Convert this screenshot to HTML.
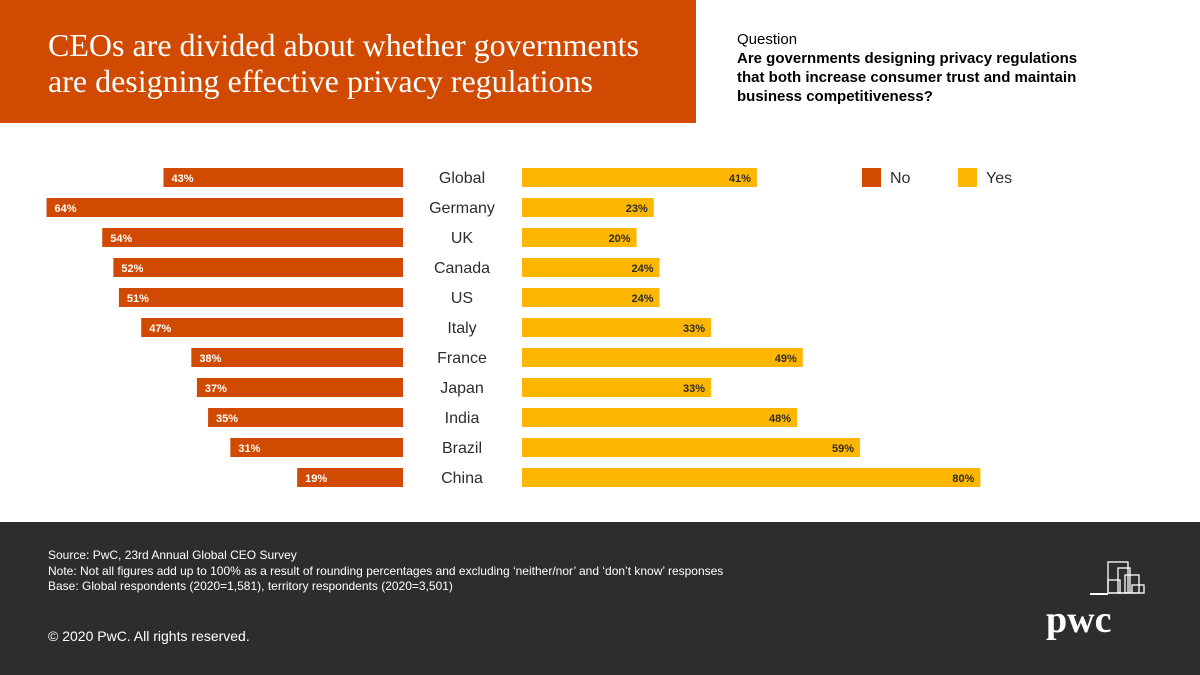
<!DOCTYPE html>
<html><head><meta charset="utf-8">
<style>
body{margin:0;width:1200px;height:675px;position:relative;overflow:hidden;background:#fff;font-family:"Liberation Sans",sans-serif;}
#hdr{position:absolute;left:0;top:0;width:696px;height:123px;background:#d04a02;}
#title{position:absolute;left:48px;top:27px;color:#fff;font-family:"Liberation Serif",serif;font-size:32px;line-height:36px;white-space:nowrap;}
#q{position:absolute;left:737px;top:30px;font-size:15px;line-height:19px;color:#000;}
#foot{position:absolute;left:0;top:522px;width:1200px;height:153px;background:#2d2d2d;color:#fff;}
#src{position:absolute;left:48px;top:26px;font-size:12px;line-height:15.5px;}
#copy{position:absolute;left:48px;top:106px;font-size:14px;}
</style></head><body>
<div id="hdr"><div id="title">CEOs are divided about whether governments<br>are designing effective privacy regulations</div></div>
<div id="q">Question<br><b>Are governments designing privacy regulations<br>that both increase consumer trust and maintain<br>business competitiveness?</b></div>
<svg id="chart" width="1200" height="522" style="position:absolute;left:0;top:0"></svg>
<div id="foot">
<div id="src">Source: PwC, 23rd Annual Global CEO Survey<br>Note: Not all figures add up to 100% as a result of rounding percentages and excluding ‘neither/nor’ and ‘don’t know’ responses<br>Base: Global respondents (2020=1,581), territory respondents (2020=3,501)</div>
<div id="copy">© 2020 PwC. All rights reserved.</div>
<svg style="position:absolute;left:1040px;top:33px" width="120" height="90">
<g fill="none" stroke="#fff" stroke-width="1.3"><rect x="68" y="7" width="20" height="31"/><rect x="78" y="13" width="12" height="25"/><rect x="85" y="20" width="14" height="18"/><rect x="92" y="30" width="12" height="8"/><rect x="68" y="25" width="12" height="13"/></g>
<rect x="50" y="38" width="18" height="2" fill="#fff"/>
<text x="6" y="77" fill="#fff" font-family="Liberation Serif,serif" font-weight="bold" font-size="38">pwc</text></svg>
</div>
<script>
const countries=["Global","Germany","UK","Canada","US","Italy","France","Japan","India","Brazil","China"];
const noVals=[43,64,54,52,51,47,38,37,35,31,19];
const yesVals=[41,23,20,24,24,33,49,33,48,59,80];
const svg=document.getElementById('chart');const NS='http://www.w3.org/2000/svg';
const noX=v=>403-v*5.57, yesW=v=>v*5.73, rowY=i=>168+i*30;
function mk(t,a){const e=document.createElementNS(NS,t);for(const k in a)e.setAttribute(k,a[k]);svg.appendChild(e);return e;}
countries.forEach((c,i)=>{
 const y=rowY(i);
 const b=mk('rect',{x:noX(noVals[i]),y:y,width:403-noX(noVals[i]),height:19,fill:'#d04a02'});
 
 
 const t=mk('text',{x:noX(noVals[i])+8,y:y+14,fill:'#fff','font-size':11,'font-weight':'bold'});t.textContent=noVals[i]+'%';
 
 
 const b2=mk('rect',{x:522,y:y,width:yesW(yesVals[i]),height:19,fill:'#ffb600'});
 
 
 const t2=mk('text',{x:522+yesW(yesVals[i])-6,y:y+14,fill:'#2d2d2d','font-size':11,'font-weight':'bold','text-anchor':'end'});t2.textContent=yesVals[i]+'%';
 
 
 const l=mk('text',{x:462,y:y+15,fill:'#2d2d2d','font-size':16,'text-anchor':'middle'});l.textContent=c;
 
 
});
[['No','#d04a02',862],['Yes','#ffb600',958]].forEach(([n,col,x])=>{
 const r=mk('rect',{x:x,y:168,width:19,height:19,fill:col});
 
 
 const t=mk('text',{x:x+28,y:183,fill:'#2d2d2d','font-size':16});t.textContent=n;
 
 
});
</script>
</body></html>
